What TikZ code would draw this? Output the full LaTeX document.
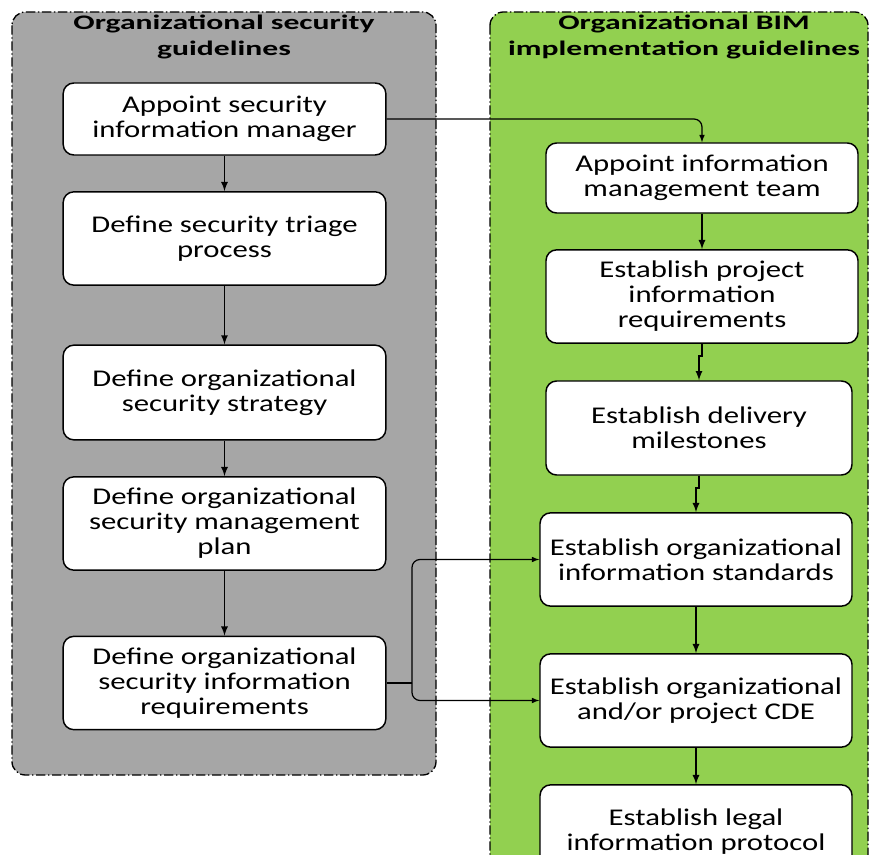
\documentclass[tikz,border=0pt]{standalone}
\usepackage{fontspec}
\setmainfont{Carlito}[FakeStretch=1.28]
\newfontfamily\titlefont{Carlito}[FakeStretch=1.53]
\usepackage{tikz}
\usetikzlibrary{positioning}
\usetikzlibrary{calc}
\usetikzlibrary{arrows.meta}
\definecolor{secgray}{HTML}{A6A6A6}
\definecolor{bimgreen}{HTML}{92D050}
\tikzset{>=latex}
\tikzset{
  lane/.style={draw=black, line width=1pt, rounded corners=10pt,
    dash pattern=on 7pt off 2pt on 1pt off 2pt},
  lanetitle/.style={align=center, font=\titlefont\bfseries\fontsize{15.5}{19.5}\selectfont},
  stepbox/.style={draw=black, fill=white, line width=1.1pt, rounded corners=8pt,
    align=center, font=\fontsize{18}{18.75}\selectfont, inner sep=2pt},
  flow/.style={->, line width=1.35pt}
}

\begin{document}
\begin{tikzpicture}[x=0.75pt, y=-0.75pt]
\useasboundingbox (0,0) rectangle (871,855);
\clip (0,0) rectangle (871,855);

% ---------- Lanes ----------
\draw[lane, fill=secgray] (12,12) rectangle (436,775);
\draw[lane, fill=bimgreen] (490,12) rectangle (868,930);
\node[lanetitle] (sectitle) at (224,37) {Organizational security\\guidelines};
\node[lanetitle] (bimtitle) at (684,37) {Organizational BIM\\implementation guidelines};

% ---------- Security steps ----------
\node[stepbox, minimum width=242pt, minimum height=54pt] (l1) at (224.5,119)
  {Appoint security\\information manager};
\node[stepbox, minimum width=242pt, minimum height=70pt] (l2) at (224.5,238.5)
  {Define security triage\\process};
\node[stepbox, minimum width=242pt, minimum height=71pt] (l3) at (224.5,392.5)
  {Define organizational\\security strategy};
\node[stepbox, minimum width=242pt, minimum height=70pt] (l4) at (224.5,523.5)
  {Define organizational\\security management\\plan};
\node[stepbox, minimum width=242pt, minimum height=70pt] (l5) at (224.5,683)
  {Define organizational\\security information\\requirements};

% ---------- BIM steps ----------
\node[stepbox, minimum width=234pt, minimum height=52.5pt] (r1) at (702,178)
  {Appoint information\\management team};
\node[stepbox, minimum width=234pt, minimum height=70pt] (r2) at (702,296.5)
  {Establish project\\information\\requirements};
\node[stepbox, minimum width=229.5pt, minimum height=70.5pt] (r3) at (699,428)
  {Establish delivery\\milestones};
\node[stepbox, minimum width=234pt, minimum height=70pt] (r4) at (696,559.5)
  {Establish organizational\\information standards};
\node[stepbox, minimum width=234pt, minimum height=70pt] (r5) at (696,700.5)
  {Establish organizational\\and/or project CDE};
\node[stepbox, minimum width=234pt, minimum height=70pt] (r6) at (696,831.5)
  {Establish legal\\information protocol};

% ---------- Arrows ----------
\draw[flow] (l1) -- (l2);
\draw[flow] (l2) -- (l3);
\draw[flow] (l3) -- (l4);
\draw[flow] (l4) -- (l5);

\draw[flow] (r1) -- (r2);
\draw[flow] (r2.south) -- ++(0,12) -| (r3.north);
\draw[flow] (r3.south) -- ++(0,12) -| (r4.north);
\draw[flow] (r4) -- (r5);
\draw[flow] (r5) -- (r6);

\draw[flow, line width=0.9pt, rounded corners=6pt] (l1.east) -| (r1.north);

\coordinate (fork) at (412,683);
\draw[line width=0.9pt] (l5.east) -- (fork);
\draw[flow, line width=0.9pt, rounded corners=6pt] (fork) |- (r4.west);
\draw[flow, line width=0.9pt, rounded corners=6pt] (fork) |- (r5.west);

\end{tikzpicture}
\end{document}
